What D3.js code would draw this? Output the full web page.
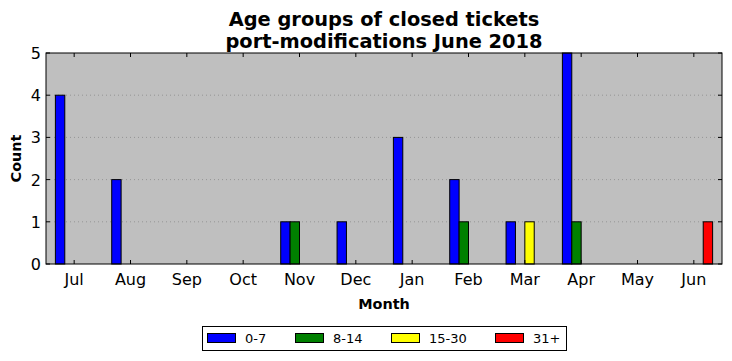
<!DOCTYPE html>
<html>
<head>
<meta charset="utf-8" />
<style>
  body { margin: 0; background: #fff; }
  text { font-family: "DejaVu Sans", sans-serif; }
</style>
</head>
<body>
<svg width="732" height="361"></svg>
<script src="https://d3js.org/d3.v7.min.js"></script>
<script>
  // data
  const months = ["Jul", "Aug", "Sep", "Oct", "Nov", "Dec", "Jan", "Feb", "Mar", "Apr", "May", "Jun"];
  const groups = ["0-7", "8-14", "15-30", "31+"];
  const colors = ["#0000ff", "#008000", "#ffff00", "#ff0000"];
  const age0to7 = [4, 2, 0, 0, 1, 1, 3, 2, 1, 5, 0, 0];
  const age8to14 = [0, 0, 0, 0, 1, 0, 0, 1, 0, 1, 0, 0];
  const age15to30 = [0, 0, 0, 0, 0, 0, 0, 0, 1, 0, 0, 0];
  const age31plus = [0, 0, 0, 0, 0, 0, 0, 0, 0, 0, 0, 1];
  const series = [age0to7, age8to14, age15to30, age31plus];
  const yTicks = [0, 1, 2, 3, 4, 5];

  const svg = d3.select("svg");
  const pL = 46, pR = 722, pT = 53, pB = 264;
  const w = 1 / 6; // bar width in month units

  const x = d3.scaleLinear().domain([-w, 12 - w]).range([pL, pR]);
  const y = d3.scaleLinear().domain([0, 5]).range([pB, pT]);

  // background
  svg.append("rect")
    .attr("x", pL).attr("y", pT)
    .attr("width", pR - pL).attr("height", pB - pT)
    .attr("fill", "#bfbfbf");

  // grid
  svg.append("g").selectAll("line")
    .data(yTicks.slice(1, 5))
    .join("line")
    .attr("x1", pL).attr("x2", pR)
    .attr("y1", d => y(d)).attr("y2", d => y(d))
    .attr("stroke", "#8a8a8a")
    .attr("stroke-width", 0.8)
    .attr("stroke-dasharray", "1,3");

  // bars
  series.forEach((vals, k) => {
    svg.append("g").selectAll("rect")
      .data(vals)
      .join("rect")
      .attr("x", (d, i) => x(i + k * w))
      .attr("width", x(w) - x(0))
      .attr("y", d => y(d))
      .attr("height", d => y(0) - y(d))
      .attr("fill", colors[k])
      .attr("stroke", "#000")
      .attr("stroke-width", 1);
  });

  // frame
  svg.append("rect")
    .attr("x", pL).attr("y", pT)
    .attr("width", pR - pL).attr("height", pB - pT)
    .attr("fill", "none").attr("stroke", "#000").attr("stroke-width", 1);

  // x ticks (inward, top and bottom)
  const xt = svg.append("g");
  months.forEach((m, i) => {
    const px = x(i + 2 * w);
    xt.append("line").attr("x1", px).attr("x2", px).attr("y1", pB).attr("y2", pB - 4).attr("stroke", "#000");
    xt.append("line").attr("x1", px).attr("x2", px).attr("y1", pT).attr("y2", pT + 4).attr("stroke", "#000");
    xt.append("text").attr("x", px).attr("y", pB + 21)
      .attr("text-anchor", "middle").attr("font-size", 16).text(m);
  });

  // y ticks
  const yt = svg.append("g");
  yTicks.forEach(v => {
    const py = y(v);
    yt.append("line").attr("x1", pL).attr("x2", pL + 4).attr("y1", py).attr("y2", py).attr("stroke", "#000");
    yt.append("line").attr("x1", pR).attr("x2", pR - 4).attr("y1", py).attr("y2", py).attr("stroke", "#000");
    yt.append("text").attr("x", pL - 5).attr("y", py + 6)
      .attr("text-anchor", "end").attr("font-size", 16).text(v);
  });

  // labels
  svg.append("text").attr("x", (pL + pR) / 2).attr("y", 309)
    .attr("text-anchor", "middle").attr("font-size", 14.4).attr("font-weight", "bold").text("Month");
  svg.append("text").attr("transform", `translate(21,${(pT + pB) / 2}) rotate(-90)`)
    .attr("text-anchor", "middle").attr("font-size", 14.4).attr("font-weight", "bold").text("Count");

  // title
  svg.append("text").attr("x", (pL + pR) / 2).attr("y", 25.5)
    .attr("text-anchor", "middle").attr("font-size", 19.4).attr("font-weight", "bold")
    .text("Age groups of closed tickets");
  svg.append("text").attr("x", (pL + pR) / 2).attr("y", 47.5)
    .attr("text-anchor", "middle").attr("font-size", 19.4).attr("font-weight", "bold")
    .text("port-modifications June 2018");

  // legend
  const lg = svg.append("g");
  lg.append("rect").attr("x", 202.5).attr("y", 326.5).attr("width", 364).attr("height", 24)
    .attr("fill", "#fff").attr("stroke", "#000");
  const legX = [207, 295, 391, 495];
  groups.forEach((g, k) => {
    lg.append("rect").attr("x", legX[k] + 0.5).attr("y", 333.5).attr("width", 28).attr("height", 9)
      .attr("fill", colors[k]).attr("stroke", "#000");
    lg.append("text").attr("x", legX[k] + 38).attr("y", 343)
      .attr("font-size", 13).text(g);
  });
</script>
</body>
</html>
